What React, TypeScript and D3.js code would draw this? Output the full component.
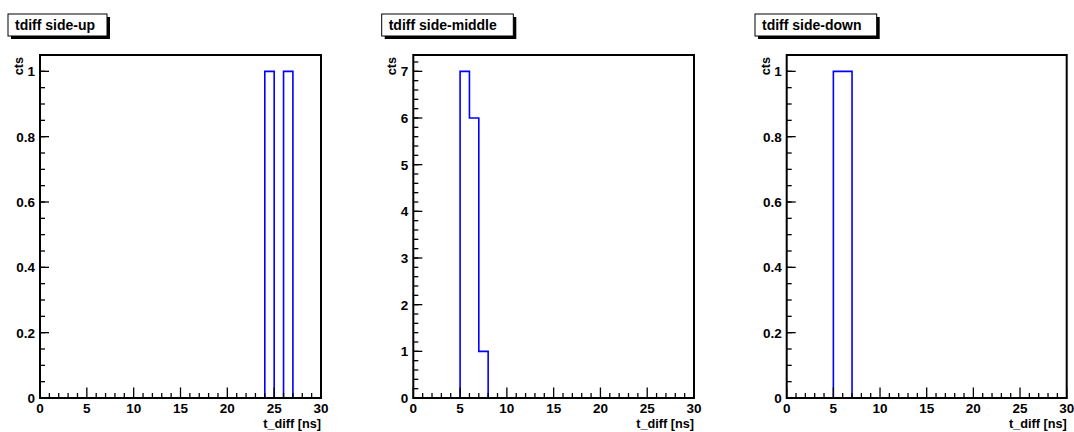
import React from "react";
import * as d3 from "d3";

// Histogram bin edges: 30 bins of width 1 ns from 0 to 30
const binEdges: number[] = d3.range(0, 31, 1);

// bin contents (cts) for each panel, 30 bins
const sideUp: number[] = [0,0,0,0,0,0,0,0,0,0,0,0,0,0,0,0,0,0,0,0,0,0,0,0,1,0,1,0,0,0];
const sideMiddle: number[] = [0,0,0,0,0,7,6,1,0,0,0,0,0,0,0,0,0,0,0,0,0,0,0,0,0,0,0,0,0,0];
const sideDown: number[] = [0,0,0,0,0,1,1,0,0,0,0,0,0,0,0,0,0,0,0,0,0,0,0,0,0,0,0,0,0,0];

const titles: string[] = ["tdiff side-up", "tdiff side-middle", "tdiff side-down"];
const xTickLabels: number[] = [0, 5, 10, 15, 20, 25, 30];
const yTicksUnit: number[] = [0, 0.2, 0.4, 0.6, 0.8, 1];
const yTicksMiddle: number[] = [0, 1, 2, 3, 4, 5, 6, 7];

// layout
const W = 1074, H = 432;
const frameTop = 55, frameBottom = 398;
const panels = [
  { left: 40, right: 321, boxX: 8, boxW: 99, data: sideUp, yTicks: yTicksUnit, minorStep: 0.05, fmt: (v: number) => d3.format("~g")(v) },
  { left: 413.3, right: 694, boxX: 381.7, boxW: 131.6, data: sideMiddle, yTicks: yTicksMiddle, minorStep: 0.2, fmt: (v: number) => String(v) },
  { left: 786.7, right: 1066.7, boxX: 755, boxW: 121.7, data: sideDown, yTicks: yTicksUnit, minorStep: 0.05, fmt: (v: number) => d3.format("~g")(v) },
];

const FONT = "'Liberation Sans', Arial, Helvetica, sans-serif";

function Panel({ p, title }: { p: typeof panels[number]; title: string }) {
  const x = d3.scaleLinear().domain([0, 30]).range([p.left, p.right]);
  const ymax = 1.05 * (d3.max(p.data) as number);
  const y = d3.scaleLinear().domain([0, ymax]).range([frameBottom, frameTop]);

  const path = d3.path();
  path.moveTo(x(binEdges[0]), y(p.data[0]));
  p.data.forEach((v, i) => {
    if (i > 0) path.lineTo(x(binEdges[i]), y(v));
    path.lineTo(x(binEdges[i + 1]), y(v));
  });

  const xMinor = d3.range(0, 30.001, 1);
  const yMinor = d3.range(0, ymax + 1e-9, p.minorStep);

  return (
    <g>
      {/* title box */}
      <rect x={p.boxX + 3} y={17} width={p.boxW} height={22} fill="#000" />
      <rect x={p.boxX} y={14} width={p.boxW} height={22} fill="#fff" stroke="#000" strokeWidth={1} />
      <text x={p.boxX + 7} y={29.5} fontFamily={FONT} fontWeight="bold" fontSize={14} fill="#000">{title}</text>

      {/* histogram */}
      <path d={path.toString()} fill="none" stroke="#0000ff" strokeWidth={1.6} />

      {/* frame */}
      <rect x={p.left} y={frameTop} width={p.right - p.left} height={frameBottom - frameTop} fill="none" stroke="#000" strokeWidth={2} />

      {/* x ticks */}
      {xMinor.map((t) => {
        const major = Math.abs(t % 5) < 1e-9;
        return <line key={"xt" + t} x1={x(t)} x2={x(t)} y1={frameBottom} y2={frameBottom - (major ? 10.5 : 5)} stroke="#000" strokeWidth={1.3} />;
      })}
      {xTickLabels.map((t) => (
        <text key={"xl" + t} x={x(t)} y={frameBottom + 15} textAnchor="middle" fontFamily={FONT} fontWeight="bold" fontSize={13.5} fill="#000">{t}</text>
      ))}
      <text x={p.right} y={428} textAnchor="end" fontFamily={FONT} fontWeight="bold" fontSize={12.7} fill="#000">t_diff [ns]</text>

      {/* y ticks */}
      {yMinor.map((t, i) => (
        <line key={"ym" + i} x1={p.left} x2={p.left + 5} y1={y(t)} y2={y(t)} stroke="#000" strokeWidth={1.3} />
      ))}
      {p.yTicks.map((t) => (
        <g key={"yt" + t}>
          <line x1={p.left} x2={p.left + 9} y1={y(t)} y2={y(t)} stroke="#000" strokeWidth={1.3} />
          <text x={p.left - 5} y={y(t)} dy="0.36em" textAnchor="end" fontFamily={FONT} fontWeight="bold" fontSize={13.5} fill="#000">{p.fmt(t)}</text>
        </g>
      ))}
      <text transform={`translate(${p.left - 17},${frameTop + 2}) rotate(-90)`} textAnchor="end" fontFamily={FONT} fontWeight="bold" fontSize={12.7} fill="#000">cts</text>
    </g>
  );
}

export default function App() {
  return (
    <svg width={W} height={H} style={{ position: "absolute", left: 0, top: 0, background: "#fff" }}>
      <rect x={0} y={0} width={W} height={H} fill="#fff" />
      {panels.map((p, i) => (
        <Panel key={i} p={p} title={titles[i]} />
      ))}
    </svg>
  );
}
